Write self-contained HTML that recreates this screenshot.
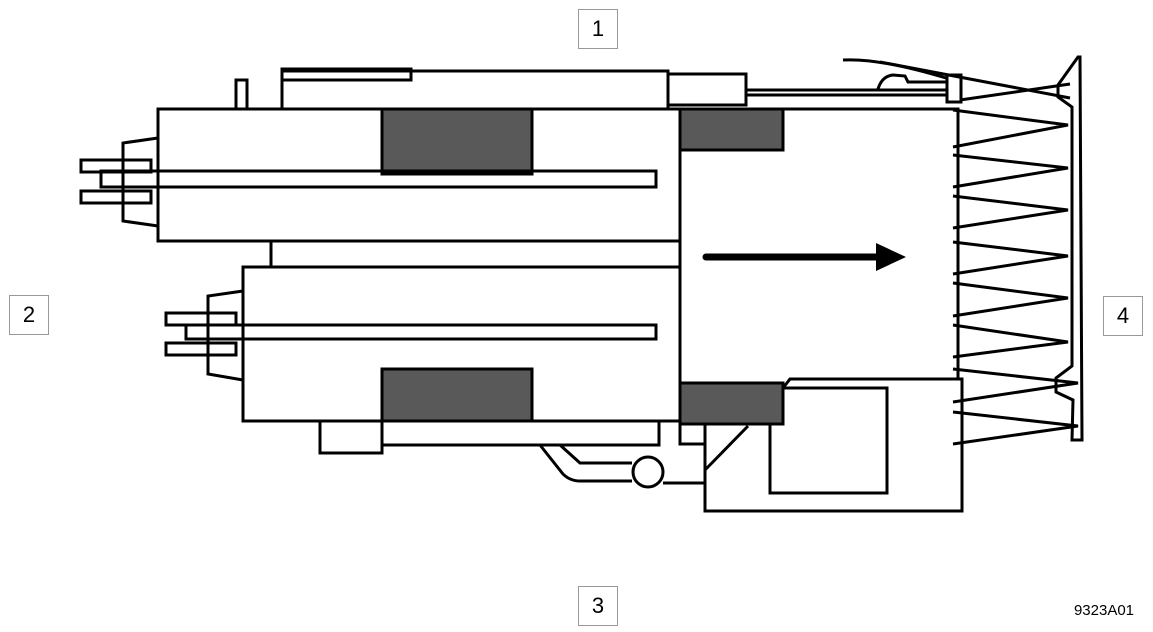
<!DOCTYPE html>
<html><head><meta charset="utf-8"><style>
html,body{margin:0;padding:0;background:#fff}
.lb{position:absolute;width:38px;height:38px;border:1px solid #999;font:22px "Liberation Sans",sans-serif;text-align:center;line-height:38px;color:#000;background:#fff}
</style></head><body>
<div style="position:relative;width:1153px;height:632px;overflow:hidden">
<svg width="1153" height="632" viewBox="0 0 1153 632" style="position:absolute;left:0;top:0" fill="none" stroke="#000" stroke-width="3">
<!-- top box -->
<rect x="282" y="71" width="386" height="38" fill="#fff"/>
<rect x="282" y="69" width="129" height="11"/>
<rect x="668" y="74" width="78" height="31"/>
<line x1="746" y1="90" x2="946" y2="90"/>
<line x1="746" y1="95" x2="946" y2="95"/>
<rect x="947" y="75" width="14" height="27"/>
<path d="M843 60 Q880 58 946 78"/>
<path d="M878 89 Q882 76 893 75 L905 76 L908 82 L946 82"/>
<path d="M880 62 L1070 98"/>
<path d="M960 100 L1070 84"/>
<path d="M1078 57 L1058 85 L1058 97 L1072 107 L1072 366 L1056 378 L1056 392 L1073 400 L1072 440 L1082 440 L1080 57 Z"/>
<rect x="236" y="80" width="11" height="29"/>
<!-- upper cylinder -->
<rect x="158" y="109" width="522" height="132" fill="#fff"/>
<rect x="382" y="109" width="150" height="65" fill="#595959"/>
<rect x="101" y="171" width="555" height="16"/>
<path d="M158 138 L123 143 L123 221 L158 226"/>
<rect x="81" y="160" width="70" height="12"/>
<rect x="81" y="191" width="70" height="12"/>
<line x1="271" y1="241" x2="271" y2="267"/>
<!-- lower cylinder -->
<rect x="243" y="267" width="437" height="154" fill="#fff"/>
<rect x="382" y="369" width="150" height="52" fill="#595959"/>
<rect x="186" y="325" width="470" height="14"/>
<path d="M243 291 L208 296 L208 374 L243 380"/>
<rect x="166" y="313" width="70" height="12"/>
<rect x="166" y="343" width="70" height="12"/>
<!-- bottom parts -->
<rect x="320" y="421" width="62" height="32"/>
<rect x="382" y="421" width="277" height="24"/>
<path d="M540 445 L563 474 Q570 481 580 481 L632 481"/>
<path d="M560 445 L580 463 L632 463"/>
<circle cx="648" cy="472" r="15" fill="#fff"/>
<line x1="663" y1="483" x2="705" y2="483"/>
<!-- right cylinder -->
<path d="M958 380 L958 109 L680 109 L680 444 L705 444" fill="#fff"/>
<rect x="680" y="109" width="103" height="41" fill="#595959"/>
<path d="M705 424 L705 511 L962 511 L962 379 L790 379 L783 388 L783 424 Z" fill="#fff"/>
<rect x="770" y="388" width="117" height="105"/>
<rect x="680" y="383" width="103" height="41" fill="#595959"/>
<line x1="748" y1="426" x2="705" y2="470"/>
<!-- arrow -->
<line x1="706" y1="257" x2="880" y2="257" stroke-width="7" stroke-linecap="round"/>
<path d="M876 243 L906 257 L876 271 Z" fill="#000" stroke="none"/>
<!-- spring -->
<path d="M953 110 L1068 125 L953 147 M953 155 L1068 168 L953 187 M953 196 L1068 210 L953 228 M953 242 L1068 256 L953 274 M953 283 L1068 298 L953 316 M953 325 L1068 342 L953 357 M953 369 L1078 383 L953 402 M953 412 L1078 426 L953 444"/>
<text x="1104" y="615" font-family="Liberation Sans, sans-serif" font-size="15" fill="#000" stroke="none" text-anchor="middle">9323A01</text>
</svg>
<div class="lb" style="left:578px;top:9px">1</div>
<div class="lb" style="left:9px;top:295px">2</div>
<div class="lb" style="left:578px;top:586px">3</div>
<div class="lb" style="left:1103px;top:296px">4</div>
</div>
</body></html>
